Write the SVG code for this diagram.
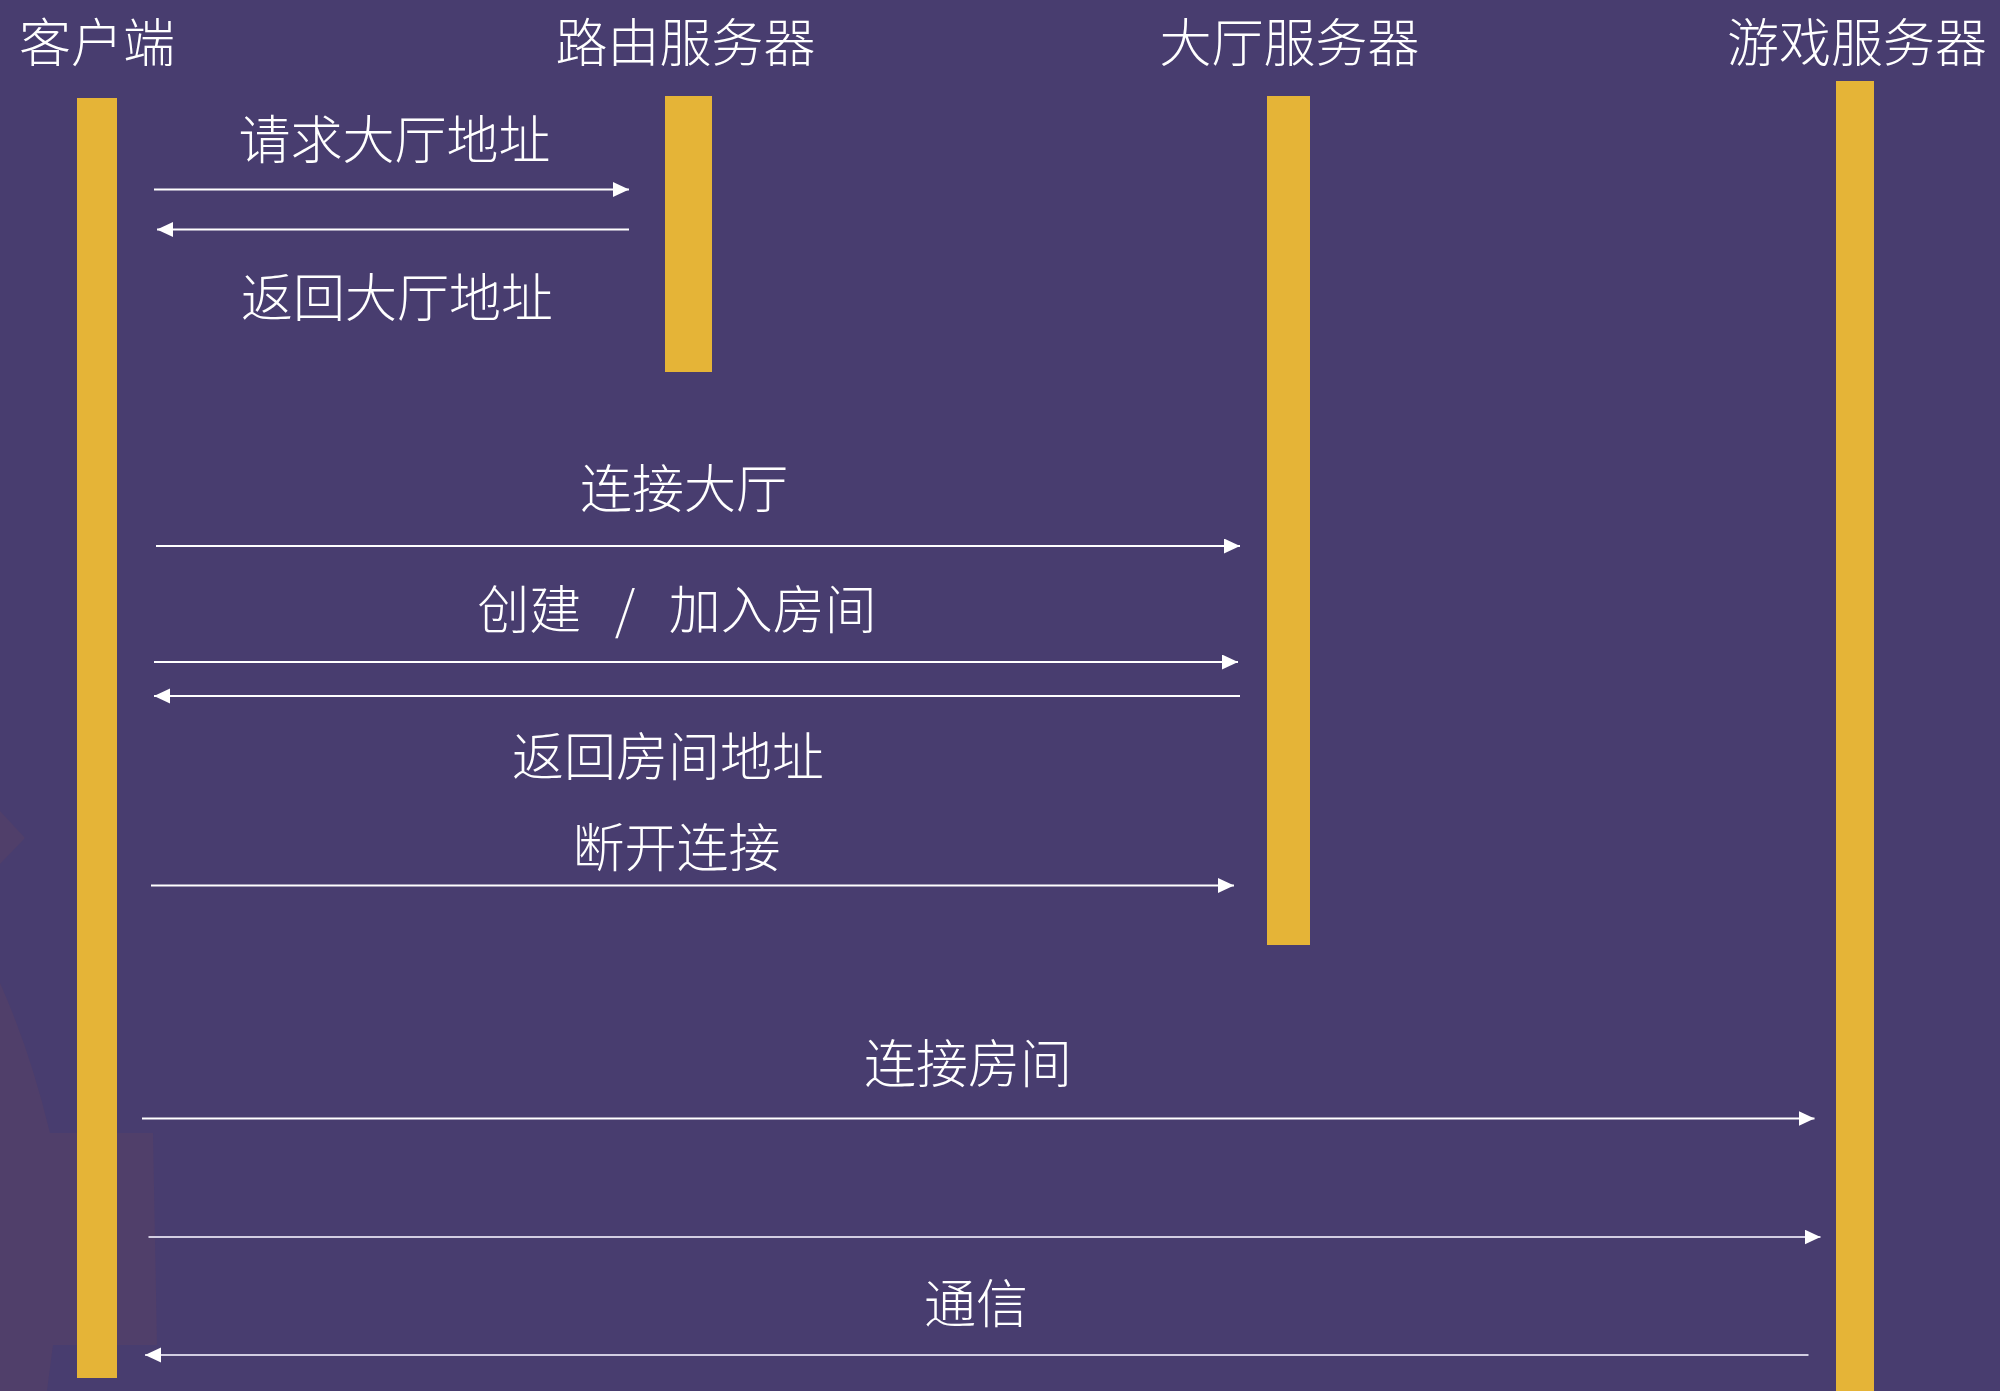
<svg xmlns="http://www.w3.org/2000/svg" width="2000" height="1391" viewBox="0 0 2000 1391">
<style>
  .bg{fill:#483D6F}
  .deco{fill:#503F6A}
  .bar{fill:#E5B437}
  .hdr{font-family:"Noto Sans CJK SC","Noto Sans CJK JP",sans-serif;font-size:52px;fill:#FFFFFF;font-weight:300}
  .lbl{font-family:"Noto Sans CJK SC","Noto Sans CJK JP",sans-serif;font-size:52px;fill:#FFFFFF;font-weight:300;text-anchor:middle}
  .msg{stroke:#FFFFFF;stroke-width:1.8;fill:none;marker-end:url(#ah)}
  .msg2{stroke:#D2CEE2;stroke-width:2.2;fill:none;marker-end:url(#ah)}
</style>
<defs>
  <marker id="ah" markerUnits="userSpaceOnUse" markerWidth="17" markerHeight="16" refX="16" refY="7.5" orient="auto" viewBox="0 0 17 16">
    <path d="M0,0 L16,7.5 L0,15 Z" fill="#FFFFFF"/>
  </marker>
</defs>
<rect class="bg" x="0" y="0" width="2000" height="1391"/>
<g id="background-decoration">
  <path class="deco" d="M0,811 L25,838 L0,864 Z"/>
  <path class="deco" d="M0,983 Q30,1050 50,1133 L153,1133 L157,1345 L53,1345 L47,1391 L0,1391 Z"/>
</g>
<g id="node-client">
  <text class="hdr" x="19" y="62">客户端</text>
  <rect class="bar" x="77" y="98" width="40" height="1280"/>
</g>
<g id="node-router">
  <text class="hdr" x="685.5" y="62" text-anchor="middle">路由服务器</text>
  <rect class="bar" x="665" y="96" width="47" height="276"/>
</g>
<g id="node-lobby">
  <text class="hdr" x="1289.5" y="62" text-anchor="middle">大厅服务器</text>
  <rect class="bar" x="1267" y="96" width="43" height="849"/>
</g>
<g id="node-game">
  <text class="hdr" x="1857" y="62" text-anchor="middle">游戏服务器</text>
  <rect class="bar" x="1836" y="81" width="38" height="1310"/>
</g>
<g id="connectors">
  <line class="msg" x1="154" y1="189.5" x2="629" y2="189.5"/>
  <line class="msg" x1="629" y1="229.5" x2="157" y2="229.5"/>
  <line class="msg" x1="156" y1="546" x2="1240" y2="546"/>
  <line class="msg" x1="154" y1="662" x2="1238" y2="662"/>
  <line class="msg" x1="1240" y1="696" x2="154" y2="696"/>
  <line class="msg" x1="151" y1="885.5" x2="1234" y2="885.5"/>
  <line class="msg" x1="142" y1="1118.5" x2="1814.5" y2="1118.5"/>
  <line class="msg2" x1="148.5" y1="1237" x2="1820.5" y2="1237"/>
  <line class="msg2" x1="1808.5" y1="1355" x2="145" y2="1355"/>
  <text class="lbl" x="394.5" y="159">请求大厅地址</text>
  <text class="lbl" x="397" y="317">返回大厅地址</text>
  <text class="lbl" x="684" y="508">连接大厅</text>
  <text class="lbl" x="677" y="629" word-spacing="22">创建 / 加入房间</text>
  <text class="lbl" x="668" y="776">返回房间地址</text>
  <text class="lbl" x="676.5" y="867">断开连接</text>
  <text class="lbl" x="968" y="1083">连接房间</text>
  <text class="lbl" x="976" y="1323">通信</text>
</g>
</svg>
